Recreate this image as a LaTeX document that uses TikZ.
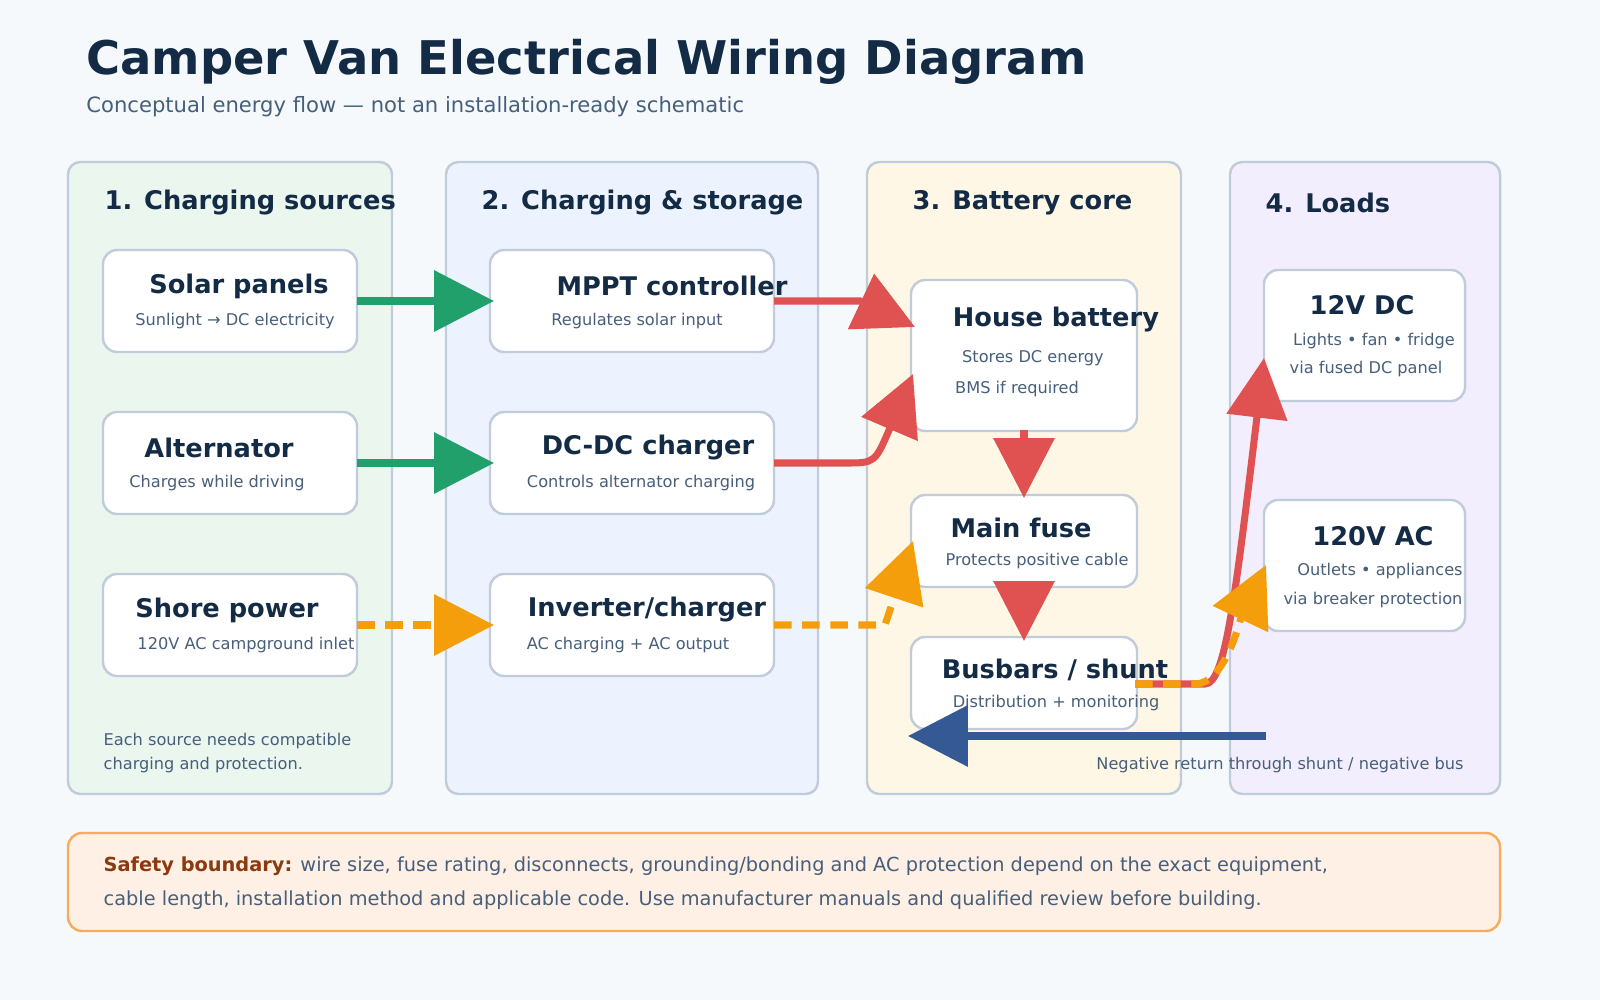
\documentclass[tikz,border=0pt]{standalone}
\usepackage{fontspec}
\setmainfont{DejaVu Sans}
\usetikzlibrary{arrows.meta,positioning,calc}
\definecolor{bgc}{HTML}{F5F9FC}
\definecolor{edge}{HTML}{C0CCDA}
\definecolor{navy}{HTML}{132B45}
\definecolor{slate}{HTML}{475F7A}
\definecolor{grn}{HTML}{22A06B}
\definecolor{rd}{HTML}{E05252}
\definecolor{org}{HTML}{F59E0B}
\definecolor{blu}{HTML}{345995}
\tikzset{
        panel/.style = {draw=edge, line width=0.7pt, rounded corners=3.5pt},
        card/.style = {draw=edge, fill=white, line width=0.7pt, rounded corners=4pt},
        ttl/.style = {text=navy, font=\bfseries\fontsize{7.3}{8}\selectfont},
        hdr/.style = {text=navy, font=\bfseries\fontsize{7.3}{8}\selectfont, anchor=west, inner sep=0pt},
        sub/.style = {text=slate, font=\fontsize{4.6}{5}\selectfont},
        flow/.style = {line width=2pt, -{Triangle[length=17pt,width=17pt]}},
        dsh/.style = {dash pattern=on 5pt off 3pt},
    }
\begin{document}
\begin{tikzpicture}[x=0.01cm,y=-0.01cm]
\fill[bgc] (0,0) rectangle (1600,1000);
\useasboundingbox (0,0) rectangle (1600,1000);
% title
\node[anchor=west, text=navy, font=\bfseries\fontsize{13.2}{15}\selectfont] (title) at (74,62) {Camper Van Electrical Wiring Diagram};
\node[anchor=west, text=slate, font=\fontsize{6}{7}\selectfont] (subtitle) at (74,107) {Conceptual energy flow — not an installation-ready schematic};
% panels
\draw[panel, fill={rgb,255:red,234;green,246;blue,238}] (68,162) rectangle (392,794);
\draw[panel, fill={rgb,255:red,237;green,243;blue,254}] (446,162) rectangle (818,794);
\draw[panel, fill={rgb,255:red,255;green,247;blue,230}] (867,162) rectangle (1181,794);
\draw[panel, fill={rgb,255:red,243;green,238;blue,254}] (1230,162) rectangle (1500,794);
\node[hdr] (h1) at (104,203) {1. Charging sources};
\node[hdr] (h2) at (481,203) {2. Charging \& storage};
\node[hdr] (h3) at (912,203) {3. Battery core};
\node[hdr] (h4) at (1265,203) {4. Loads};
% cards
\draw[card] (103,250) rectangle (357,352);
\draw[card] (103,412) rectangle (357,514);
\draw[card] (103,574) rectangle (357,676);
\draw[card] (490,250) rectangle (774,352);
\draw[card] (490,412) rectangle (774,514);
\draw[card] (490,574) rectangle (774,676);
\draw[card] (911,280) rectangle (1137,431);
\draw[card] (911,495) rectangle (1137,587);
\draw[card] (911,637) rectangle (1137,729);
\draw[card] (1264,270) rectangle (1465,401);
\draw[card] (1264,500) rectangle (1465,631);
% card texts
\node[ttl] (solar) at (239,286) {Solar panels};
\node[sub] at (235,321) {Sunlight → DC electricity};
\node[ttl] (alt) at (219,448) {Alternator};
\node[sub] at (217,483) {Charges while driving};
\node[ttl] (shore) at (227,610) {Shore power};
\node[sub] at (246,645) {120V AC campground inlet};
\node[ttl] (mppt) at (672,286) {MPPT controller};
\node[sub] at (637,321) {Regulates solar input};
\node[ttl] (dcdc) at (648,448) {DC-DC charger};
\node[sub] at (641,483) {Controls alternator charging};
\node[ttl] (inv) at (647,610) {Inverter/charger};
\node[sub] at (628,645) {AC charging + AC output};
\node[ttl] (bat) at (1056,320) {House battery};
\node[sub] at (1033,358) {Stores DC energy};
\node[sub] at (1017,389) {BMS if required};
\node[ttl] (fuse) at (1021,528) {Main fuse};
\node[sub] at (1037,561) {Protects positive cable};
\node[ttl] (bus) at (1055,670) {Busbars / shunt};
\node[sub] at (1056,703) {Distribution + monitoring};
\node[ttl] (dc12) at (1362,305) {12V DC};
\node[sub] at (1374,341) {Lights • fan • fridge};
\node[sub] at (1366,369) {via fused DC panel};
\node[ttl] (ac120) at (1373,536) {120V AC};
\node[sub] at (1380,571) {Outlets • appliances};
\node[sub] at (1373,600) {via breaker protection};
\node[sub, anchor=west, align=left, inner sep=0pt] (note) at (103,753) {Each source needs compatible\\[2pt]charging and protection.};
% coordinates for connectors
\coordinate (sE) at (357,301); \coordinate (mW) at (494,301);
\coordinate (aE) at (357,463); \coordinate (dW) at (494,463);
\coordinate (shE) at (357,625); \coordinate (iW) at (494,625);
\coordinate (mE) at (774,301); \coordinate (bW) at (915,327);
\coordinate (dE) at (774,463); \coordinate (bW2) at (913,374);
\coordinate (iE) at (774,625); \coordinate (fT) at (913,541);
\coordinate (bS) at (1024,430); \coordinate (fN) at (1024,498);
\coordinate (fS) at (1024,586); \coordinate (uN) at (1024,641);
\coordinate (uE) at (1135,684); \coordinate (dcS) at (1264,358);
\coordinate (acW) at (1266,565);
\coordinate (ret) at (1266,736); \coordinate (uW) at (908,736);
% connectors
\draw[flow, grn] (sE) -- (mW);
\draw[flow, grn] (aE) -- (dW);
\draw[flow, org, dsh] (shE) -- (iW);
\draw[flow, rd] (mE) -- (860,301) -- (bW);
\draw[flow, rd] (dE) -- (845,463) .. controls (875,463) .. (bW2);
\draw[flow, org, dsh] (iE) -- (885,625) -- (fT);
\draw[flow, rd] (bS) -- (fN);
\draw[flow, rd] (fS) -- (uN);
\draw[flow, rd] (uE) -- (1205,684) .. controls (1225,684) and (1235,600) .. (dcS);
\draw[flow, org, dsh] (uE) -- (1195,684) .. controls (1225,684) and (1240,620) .. (acW);
\draw[flow, blu] (ret) -- (uW);
\node[sub, anchor=east] (retlbl) at (1476,765) {Negative return through shunt / negative bus};
% safety
\draw[draw={rgb,255:red,245;green,173;blue,92}, fill={rgb,255:red,255;green,240;blue,230}, line width=0.7pt, rounded corners=4pt] (68,833) rectangle (1500,931);
\node[anchor=west, align=left, inner sep=0pt, text=slate, font=\fontsize{5.5}{9.5}\selectfont] (safety) at (103,883)
  {\textcolor[HTML]{8A3A0E}{\bfseries Safety boundary:} wire size, fuse rating, disconnects, grounding/bonding and AC protection depend on the exact equipment,\\cable length, installation method and applicable code. Use manufacturer manuals and qualified review before building.};
\end{tikzpicture}
\end{document}
